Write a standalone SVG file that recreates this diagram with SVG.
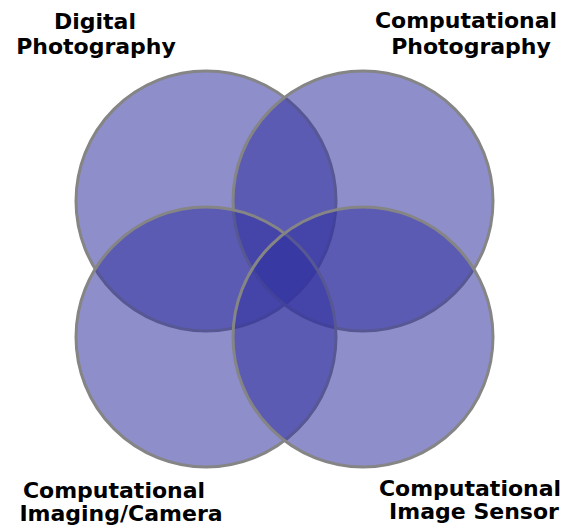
<svg xmlns="http://www.w3.org/2000/svg" width="568" height="527" viewBox="0 0 568 527">
<style>
.set{fill:#3232a0;fill-opacity:0.55;stroke:#858585;stroke-width:3}
.lbl{font-family:"DejaVu Sans","Verdana",sans-serif;font-weight:bold;font-size:22px;fill:#000;text-anchor:middle}
</style>
<rect width="568" height="527" fill="#fff"/>
<g id="digital-photography">
<circle class="set" cx="206" cy="201" r="130"/>
<text class="lbl" x="95" y="29">Digital</text>
<text class="lbl" x="96" y="54">Photography</text>
</g>
<g id="computational-photography">
<circle class="set" cx="363" cy="201" r="130"/>
<text class="lbl" x="466" y="28">Computational</text>
<text class="lbl" x="471" y="54">Photography</text>
</g>
<g id="computational-imaging-camera">
<circle class="set" cx="206" cy="337" r="130"/>
<text class="lbl" x="114" y="498">Computational</text>
<text class="lbl" x="121" y="521">Imaging/Camera</text>
</g>
<g id="computational-image-sensor">
<circle class="set" cx="363" cy="337" r="130"/>
<text class="lbl" x="470" y="496">Computational</text>
<text class="lbl" x="474" y="519">Image Sensor</text>
</g>
<g id="connectors"></g>
</svg>
